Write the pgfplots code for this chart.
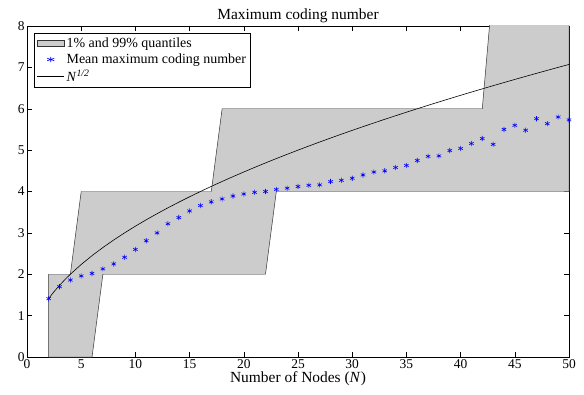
\documentclass[border=0pt]{standalone}
\usepackage{fontspec}
\setmainfont{Liberation Serif}
\usepackage{pgfplots}
\pgfplotsset{compat=1.18}
\definecolor{bandgray}{RGB}{204,204,204}
\begin{document}
\begin{tikzpicture}
\begin{axis}[
  name=main,
  scale only axis,
  width=542bp, height=331bp,
  xmin=0, xmax=50, ymin=0, ymax=8,
  xtick={0,5,...,50}, ytick={0,1,...,8},
  tick align=inside,
  major tick length=5bp,
  tick style={black, line width=0.4pt},
  axis line style={line width=0.6pt},
  /pgf/number format/assume math mode=true,
  every tick label/.append style={font=\fontsize{13.5}{15}\selectfont},
  xticklabel style={yshift=1bp},
  yticklabel style={xshift=1bp},
  title={Maximum coding number},
  title style={font=\fontsize{15.5}{17}\selectfont, yshift=-6bp},
  xlabel={Number of Nodes (\textit{N})},
  xlabel style={font=\fontsize{15.5}{17}\selectfont, yshift=4bp},
  legend style={at={(0.013,0.979)}, anchor=north west, draw=black, line width=0.6pt,
    font=\fontsize{14}{16}\selectfont, inner sep=2.5bp, row sep=1bp,
    cells={anchor=west}},
  legend cell align=left,
  legend image post style={xscale=1.6},
]
\addplot[fill=bandgray, draw=black!80, line width=0.5pt, area legend] coordinates {
  (2,2) (3,2) (4,2) (5,4) (6,4) (17,4) (18,6) (30,6) (42,6) (43,9) (50,9)
  (50,4) (40,4) (23,4) (22,2) (10,2) (7,2) (6,0) (4,0) (2,0)
} -- cycle;
\addlegendentry{1\% and 99\% quantiles}
\addplot[only marks, mark=asterisk, color=blue, mark size=2.6bp, line width=0.6pt] coordinates {
  (2,1.41) (3,1.70) (4,1.86) (5,1.96) (6,2.02) (7,2.13) (8,2.25) (9,2.41) (10,2.60)
  (11,2.81) (12,3.00) (13,3.22) (14,3.37) (15,3.53) (16,3.66) (17,3.75) (18,3.82)
  (19,3.89) (20,3.94) (21,3.98) (22,4.00) (23,4.05) (24,4.08) (25,4.12) (26,4.15)
  (27,4.16) (28,4.24) (29,4.27) (30,4.32) (31,4.40) (32,4.47) (33,4.50) (34,4.58)
  (35,4.63) (36,4.75) (37,4.85) (38,4.86) (39,4.99) (40,5.04) (41,5.16) (42,5.28)
  (43,5.14) (44,5.50) (45,5.60) (46,5.48) (47,5.76) (48,5.64) (49,5.80) (50,5.73)
};
\addlegendentry{Mean maximum coding number}
\addplot[black, line width=0.6pt] coordinates {
  (2,1.4142) (2.5,1.5811) (3,1.7321) (3.5,1.8708) (4,2) (5,2.2361) (6,2.4495)
  (7,2.6458) (8,2.8284) (9,3) (10,3.1623) (11,3.3166) (12,3.4641) (13,3.6056)
  (14,3.7417) (15,3.8730) (16,4) (17,4.1231) (18,4.2426) (19,4.3589) (20,4.4721)
  (21,4.5826) (22,4.6904) (23,4.7958) (24,4.8990) (25,5) (26,5.0990) (27,5.1962)
  (28,5.2915) (29,5.3852) (30,5.4772) (31,5.5678) (32,5.6569) (33,5.7446)
  (34,5.8310) (35,5.9161) (36,6) (37,6.0828) (38,6.1644) (39,6.2450) (40,6.3246)
  (41,6.4031) (42,6.4807) (43,6.5574) (44,6.6332) (45,6.7082) (46,6.7823)
  (47,6.8557) (48,6.9282) (49,7) (50,7.0711)
};
\addlegendentry{\textit{N}\textsuperscript{\textit{1/2}}}
\end{axis}
\pgfresetboundingbox
\path[use as bounding box] ([shift={(-27bp,-38bp)}]main.south west) rectangle ([shift={(15bp,26bp)}]main.north east);
\end{tikzpicture}
\end{document}
